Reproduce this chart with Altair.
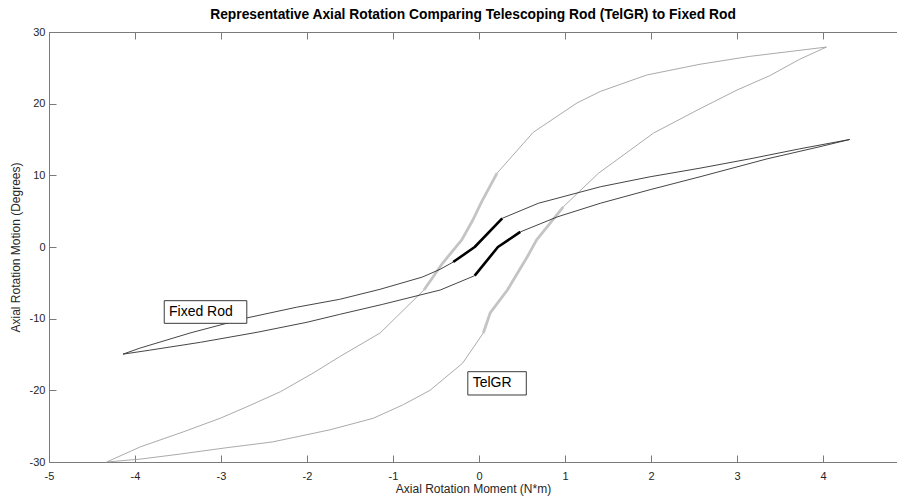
import altair as alt
import pandas as pd

# ---------------- data ----------------
# TelGR (gray) loading branch, bottom-left to top-right (upper side)
telgr_load_x = [-4.33, -3.94, -3.44, -3.01, -2.70, -2.31, -1.93, -1.62, -1.15, -0.64,
                -0.42, -0.20, -0.07, 0.03, 0.21, 0.63, 1.14, 1.41, 1.95, 2.57, 3.15, 4.04]
telgr_load_y = [-30.0, -27.9, -25.8, -23.9, -22.3, -20.2, -17.6, -15.3, -12.0, -6.0,
                -2.2, 1.0, 3.8, 6.3, 10.3, 16.0, 20.1, 21.7, 24.0, 25.5, 26.6, 27.9]
telgr_load_nz = (9, 14)  # neutral-zone (thick) vertex range

# TelGR (gray) unloading branch, top-right to bottom-left (lower side)
telgr_unload_x = [4.04, 3.73, 3.38, 3.00, 2.57, 2.03, 1.39, 0.98, 0.83, 0.67, 0.56, 0.33,
                  0.13, 0.05, -0.19, -0.57, -0.88, -1.23, -1.73, -2.40, -2.93, -3.48, -3.94, -4.33]
telgr_unload_y = [27.9, 26.2, 23.9, 21.9, 19.3, 15.9, 10.3, 5.6, 3.35, 1.0, -1.4, -6.0,
                  -9.2, -12.0, -16.2, -20.0, -22.0, -23.9, -25.5, -27.2, -28.0, -28.9, -29.6, -30.0]
telgr_unload_nz = (7, 13)

# Fixed Rod (black) loading branch (upper side)
fixed_load_x = [-4.14, -3.94, -3.36, -2.70, -2.12, -1.62, -1.15, -0.66, -0.45, -0.30,
                -0.05, 0.27, 0.69, 1.41, 1.99, 2.57, 3.15, 3.73, 4.31]
fixed_load_y = [-14.95, -14.1, -12.0, -9.9, -8.4, -7.3, -5.9, -4.2, -3.1, -2.1,
                0.0, 4.0, 6.1, 8.4, 9.8, 11.0, 12.3, 13.7, 15.0]
fixed_load_nz = (9, 11)

# Fixed Rod (black) unloading branch (lower side)
fixed_unload_x = [4.31, 3.93, 3.35, 2.57, 1.99, 1.41, 0.91, 0.48, 0.22, -0.05,
                  -0.45, -1.12, -1.62, -2.00, -2.58, -3.24, -3.83, -4.14]
fixed_unload_y = [15.0, 13.9, 12.3, 9.8, 8.0, 6.1, 4.2, 2.1, 0.0, -4.0,
                  -6.0, -8.0, -9.4, -10.5, -11.9, -13.3, -14.4, -14.95]
fixed_unload_nz = (7, 9)

# annotation boxes
label_text = ["Fixed Rod", "TelGR"]
label_x = [-3.605, -0.073]
label_y = [-9.07, -19.02]
box_x1 = [-3.66, -0.13]
box_x2 = [-2.70, 0.55]
box_y1 = [-7.49, -17.4]
box_y2 = [-10.65, -20.65]

x_ticks = [-5, -4, -3, -2, -1, 0, 1, 2, 3, 4]
y_ticks = [-30, -20, -10, 0, 10, 20, 30]

TITLE = "Representative Axial Rotation Comparing Telescoping Rod (TelGR) to Fixed Rod"
X_TITLE = "Axial Rotation Moment (N*m)"
Y_TITLE = "Axial Rotation Motion (Degrees)"

# ---------------- build tables ----------------
rows = []
def add_branch(curve, name, xs, ys, nz):
    a, b = nz
    parts = [("thin", 0, a), ("thick", a, b), ("thin", b, len(xs) - 1)]
    for k, (part, s, e) in enumerate(parts):
        for i in range(s, e + 1):
            rows.append(dict(x=xs[i], y=ys[i], curve=curve, part=part,
                             seg=f"{name}-{k}", order=i))

add_branch("TelGR", "tl", telgr_load_x, telgr_load_y, telgr_load_nz)
add_branch("TelGR", "tu", telgr_unload_x, telgr_unload_y, telgr_unload_nz)
add_branch("Fixed Rod", "fl", fixed_load_x, fixed_load_y, fixed_load_nz)
add_branch("Fixed Rod", "fu", fixed_unload_x, fixed_unload_y, fixed_unload_nz)
lines_df = pd.DataFrame(rows)

ann_df = pd.DataFrame(dict(text=label_text, lx=label_x, ly=label_y,
                           bx1=box_x1, bx2=box_x2, by1=box_y1, by2=box_y2))

# ---------------- styling ----------------
# the page's flex container is 889px wide: keep the whole svg within it
W, H = 848, 430
PX_PER_UNIT = 86.0
XMAX = -5 + W / PX_PER_UNIT
FONT = "Liberation Sans"
AXC = "#7a7a7a"
TXT = "#262626"
TICK = 7
LABEL_EXPR = "'' + datum.value"

xscale = alt.Scale(domain=[-5, XMAX], nice=False, zero=False, padding=0)
yscale = alt.Scale(domain=[-30, 30], nice=False, zero=False, padding=0)

def lab_axis(orient, title, values, pad, tpad):
    return alt.Axis(orient=orient, values=values, ticks=False, tickSize=0, domain=True,
                    domainColor=AXC, domainWidth=1, labels=True, labelFont=FONT,
                    labelFontSize=11, labelColor=TXT, labelPadding=pad, labelFlush=False,
                    labelExpr=LABEL_EXPR, grid=False,
                    title=title, titleFont=FONT, titleFontSize=12, titleFontWeight="normal",
                    titleColor=TXT, titlePadding=tpad)

def border_axis(orient, values):
    return alt.Axis(orient=orient, values=values, ticks=False, tickSize=0, domain=True,
                    domainColor=AXC, domainWidth=1, labels=False, grid=False, title=None)

def tick_axis(orient, values):
    return alt.Axis(orient=orient, values=values, ticks=True, tickSize=TICK, tickColor=AXC,
                    tickWidth=1, offset=-TICK, domain=False, labels=False, grid=False, title=None)

def line_layer(curve, part, color, width, xaxis, yaxis):
    return alt.Chart(lines_df).transform_filter(
        (alt.datum.curve == curve) & (alt.datum.part == part)
    ).mark_line(color=color, strokeWidth=width, strokeCap="butt", strokeJoin="round").encode(
        x=alt.X("x:Q", scale=xscale, axis=xaxis),
        y=alt.Y("y:Q", scale=yscale, axis=yaxis),
        detail="seg:N",
        order="order:Q",
    )

gray_thin = line_layer("TelGR", "thin", "#a0a0a0", 0.9,
                       lab_axis("bottom", X_TITLE, x_ticks, 8, 2),
                       lab_axis("left", Y_TITLE, y_ticks, 4, 7))
gray_thick = line_layer("TelGR", "thick", "#c4c4c4", 2.8,
                        border_axis("top", x_ticks), None)
black_thin = line_layer("Fixed Rod", "thin", "#303030", 0.9,
                        tick_axis("bottom", x_ticks), tick_axis("left", y_ticks))
black_thick = line_layer("Fixed Rod", "thick", "#000000", 2.6,
                         tick_axis("top", x_ticks), None)

boxes = alt.Chart(ann_df).mark_rect(fill="white", stroke="#3a3a3a", strokeWidth=1).encode(
    x=alt.X("bx1:Q", scale=xscale, axis=None),
    x2="bx2:Q",
    y=alt.Y("by1:Q", scale=yscale, axis=None),
    y2="by2:Q",
)

texts = alt.Chart(ann_df).mark_text(align="left", baseline="middle", font=FONT,
                                    fontSize=14, color="black").encode(
    x=alt.X("lx:Q", scale=xscale, axis=None),
    y=alt.Y("ly:Q", scale=yscale, axis=None),
    text="text:N",
)

chart = alt.layer(gray_thin, gray_thick, black_thin, black_thick, boxes, texts).resolve_axis(
    x="independent", y="independent"
).properties(
    width=W, height=H,
    title=alt.TitleParams(TITLE, font=FONT, fontSize=13.8, fontWeight="bold", color="black",
                          anchor="middle", frame="group", offset=4),
    padding={"left": 41, "top": 24, "right": 0, "bottom": 35},
    autosize=alt.AutoSizeParams(type="none"),
).configure_view(stroke=None).configure(background="white")

chart.save("out.html", embed_options={"renderer": "svg", "actions": False})
